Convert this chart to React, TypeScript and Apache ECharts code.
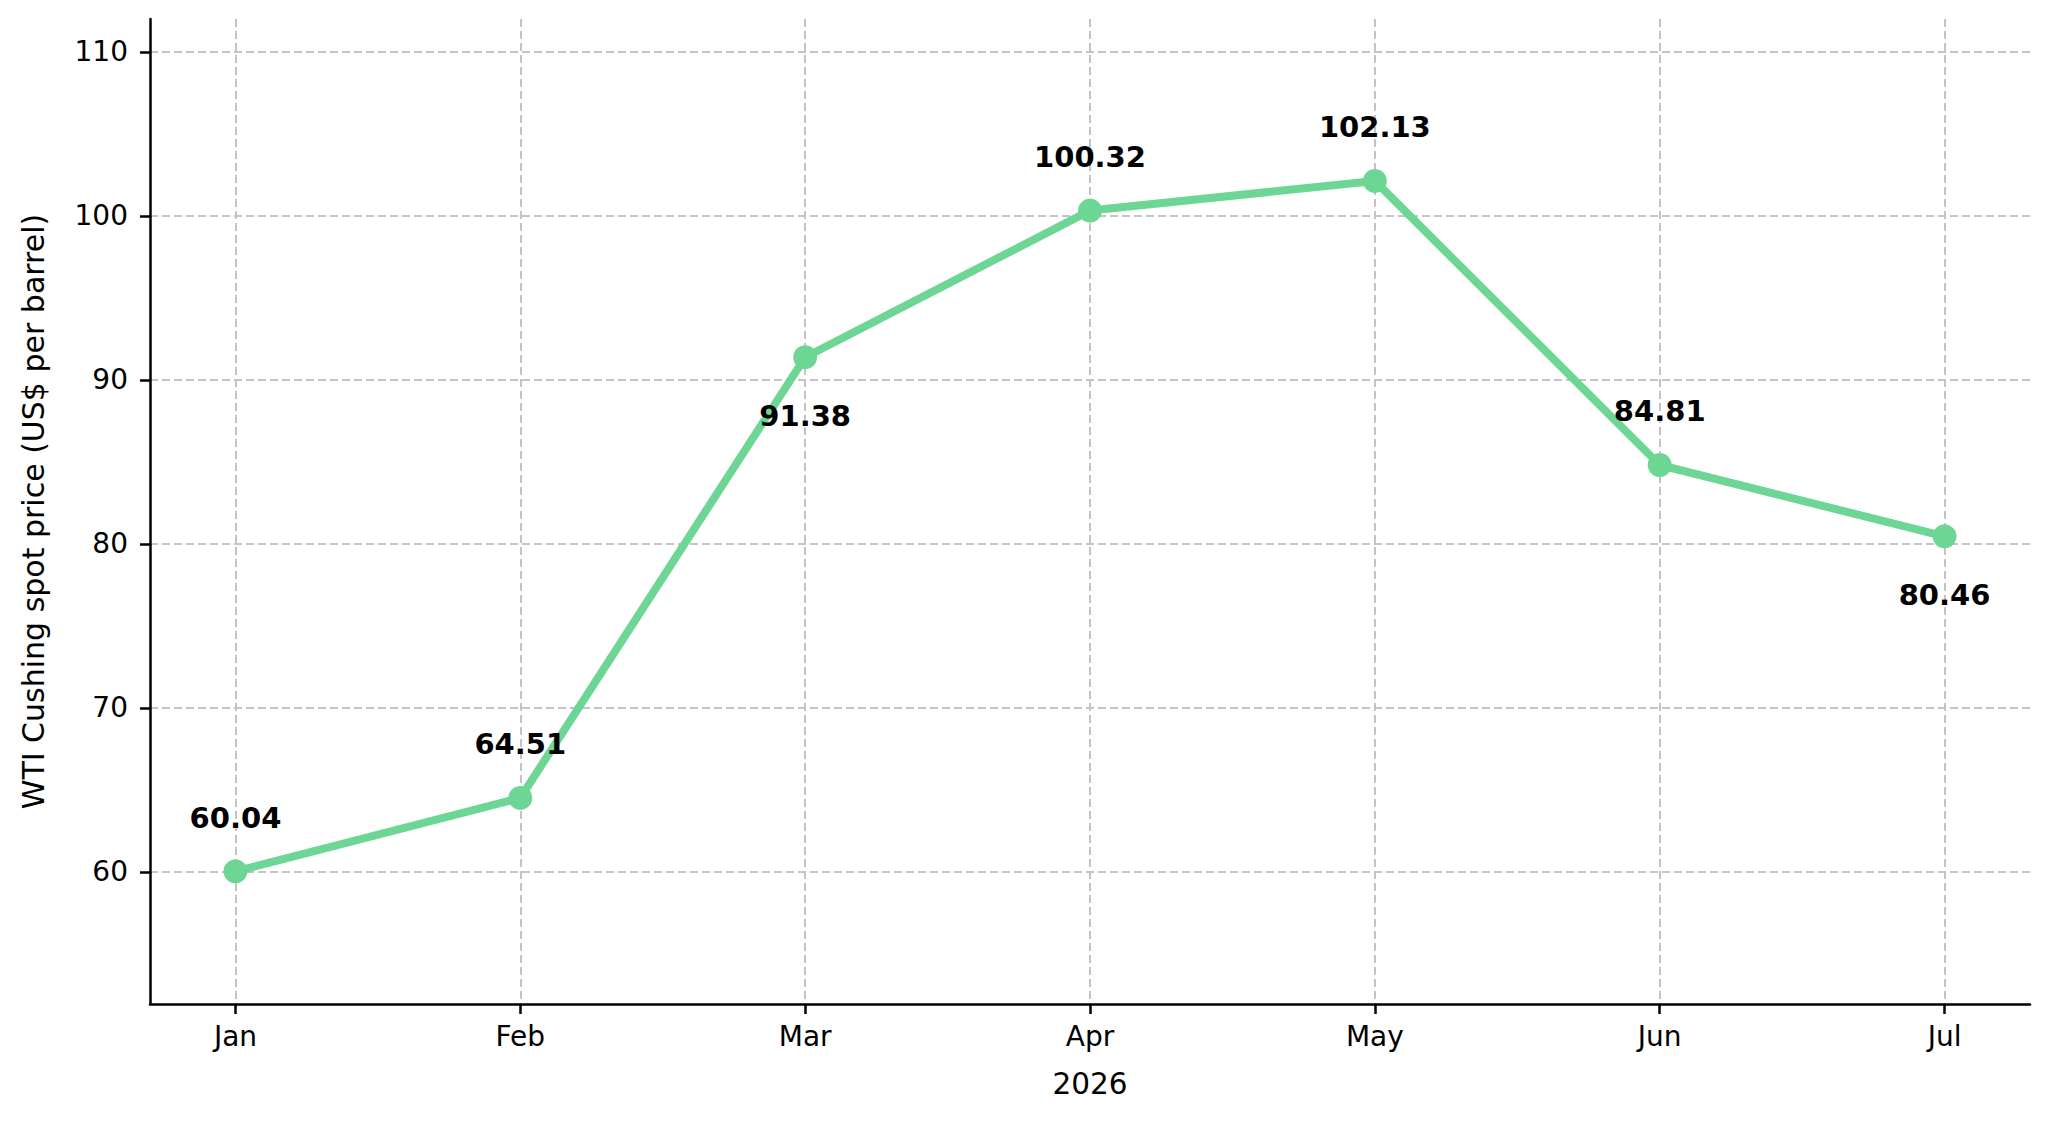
import React, { useEffect, useRef } from "react";
import * as echarts from "echarts";

const months = ["Jan", "Feb", "Mar", "Apr", "May", "Jun", "Jul"];
const prices = [60.04, 64.51, 91.38, 100.32, 102.13, 84.81, 80.46];
const labelBelow = [false, false, true, false, false, false, true];
const yTicks = [60, 70, 80, 90, 100, 110];
const xTicks = [0, 1, 2, 3, 4, 5, 6];

const FONT = "DejaVu Sans";

export default function App() {
  const ref = useRef<HTMLDivElement>(null);
  useEffect(() => {
    if (!ref.current) return;
    const chart = echarts.init(ref.current, undefined, { renderer: "svg" });
    const data = prices.map((v, i) => ({
      value: [i, v],
      label: labelBelow[i]
        ? { position: "bottom", distance: 32 }
        : { position: "top", distance: 27 },
    }));
    chart.setOption({
      animation: false,
      backgroundColor: "#ffffff",
      textStyle: { fontFamily: FONT },
      grid: { left: 150, right: 18, top: 19, bottom: 117, containLabel: false },
      xAxis: {
        type: "value",
        min: -0.3,
        max: 6.3,
        name: "2026",
        nameLocation: "middle",
        nameGap: 65,
        nameTextStyle: { fontFamily: FONT, fontSize: 29.5, color: "#000" },
        axisLine: { show: true, onZero: false, lineStyle: { color: "#000", width: 2.5 } },
        axisTick: { show: true, customValues: xTicks, length: 10, lineStyle: { color: "#000", width: 2.5 } },
        axisLabel: {
          customValues: xTicks,
          formatter: (v: number) => months[Math.round(v)] ?? "",
          fontFamily: FONT,
          fontSize: 28,
          color: "#000",
          margin: 18,
        },
        splitLine: {
          show: true,
          customValues: xTicks,
          lineStyle: { color: "#c4c4c4", width: 2, type: [8, 4] },
        },
      },
      yAxis: {
        type: "value",
        min: 51.95,
        max: 112,
        name: "WTI Cushing spot price (US$ per barrel)",
        nameLocation: "middle",
        nameGap: 102,
        nameTextStyle: { fontFamily: FONT, fontSize: 30, color: "#000" },
        axisLine: { show: true, onZero: false, lineStyle: { color: "#000", width: 2.5 } },
        axisTick: { show: true, customValues: yTicks, length: 10, lineStyle: { color: "#000", width: 2.5 } },
        axisLabel: {
          customValues: yTicks,
          fontFamily: FONT,
          fontSize: 28,
          color: "#000",
          margin: 22,
        },
        splitLine: {
          show: true,
          customValues: yTicks,
          lineStyle: { color: "#c4c4c4", width: 2, type: [8, 4] },
        },
      },
      series: [
        {
          type: "line",
          data,
          symbol: "circle",
          symbolSize: 24,
          lineStyle: { color: "#6dd695", width: 8 },
          itemStyle: { color: "#6dd695" },
          label: {
            show: true,
            formatter: (p: any) => p.value[1].toFixed(2),
            fontFamily: FONT,
            fontSize: 29,
            fontWeight: "bold",
            color: "#000",
          },
          z: 3,
        },
      ],
    });
    return () => chart.dispose();
  }, []);
  return (
    <div
      ref={ref}
      style={{ position: "absolute", left: 0, top: 0, width: 2048, height: 1121 }}
    />
  );
}
